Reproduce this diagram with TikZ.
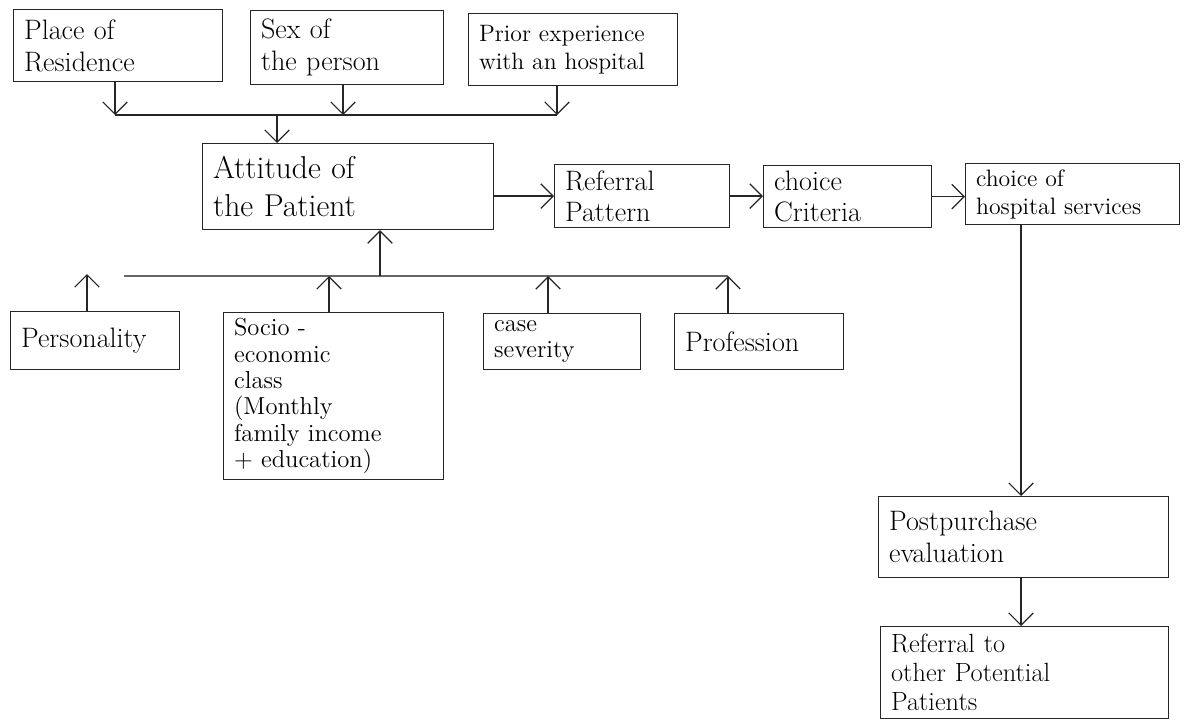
\documentclass[tikz,border=0pt]{standalone}
\usetikzlibrary{arrows.meta}
\begin{document}
\begin{tikzpicture}[x=0.02cm,y=-0.02cm,
  box/.style={draw=black!85, line width=0.7pt, anchor=north west, align=left,
    inner xsep=0.21cm, inner ysep=2pt, font=\fontsize{16}{18}\selectfont},
  small/.style={font=\fontsize{13.5}{16}\selectfont},
  sz/.style n args={3}{minimum width=#1cm, minimum height=#2cm, text width=#3cm},
  link/.style={draw=black!85, line width=0.7pt},
  arr/.style={link, -{Straight Barb[length=7pt,width=14pt]}}
]
\fill[white] (0,0) rectangle (1189,720);
\useasboundingbox (0,0) rectangle (1189,720);

% influencing factors above the attitude box
\node[box, sz={4.18}{1.44}{3.76}] (place) at (13,9) {Place of\\Residence};
\node[box, sz={3.86}{1.48}{3.44}] (sex) at (250,10) {Sex of\\the person};
\node[box, small, sz={4.18}{1.44}{3.76}] (prior) at (468,13) {Prior experience\\with an hospital};

% main chain
\node[box, font=\fontsize{18}{22}\selectfont, sz={5.82}{1.72}{5.40}] (att) at (202,143) {Attitude of\\the Patient};
\node[box, sz={3.50}{1.26}{3.08}] (ref) at (554,164) {Referral\\Pattern};
\node[box, sz={3.36}{1.24}{2.94}] (crit) at (763,165) {choice\\Criteria};
\node[box, small, sz={4.28}{1.22}{3.86}] (hosp) at (965,163) {choice of\\hospital services};

% influencing factors below the attitude box
\node[box, sz={3.38}{1.16}{2.96}] (pers) at (10,311) {Personality};
\node[box, font=\fontsize{14}{15}\selectfont, sz={4.40}{3.34}{3.98}] (socio) at (223,312)
  {Socio -\\economic\\class\\(Monthly\\family income\\+ education)};
\node[box, font=\fontsize{14}{14.5}\selectfont, sz={3.14}{1.12}{2.72}] (case) at (483,313) {case\\severity};
\node[box, sz={3.38}{1.12}{2.96}] (prof) at (674,313) {Profession};

% after the choice
\node[box, sz={5.80}{1.62}{5.38}] (post) at (878,496) {Postpurchase\\evaluation};
\node[box, font=\fontsize{15}{16.5}\selectfont, sz={5.76}{1.84}{5.34}] (other) at (880,626)
  {Referral to\\other Potential\\Patients};

% upper collector
\coordinate (jp) at (115,115);
\coordinate (js) at (343,115);
\coordinate (jr) at (557,115);
\coordinate (ja) at (277,115);
\draw[arr] (place.south -| jp) -- (jp);
\draw[arr] (sex.south -| js) -- (js);
\draw[arr] (prior.south -| jr) -- (jr);
\draw[link] (jp) -- (jr);
\draw[arr] (ja) -- (ja |- att.north);

% chain arrows
\draw[arr] (ref.west -| att.east) -- (ref.west);
\draw[arr] (ref.east) -- (crit.west |- ref.east);
\draw[arr] (crit.east) -- (hosp.west |- crit.east);
\coordinate (jh) at (1021,0);
\draw[arr] (hosp.south -| jh) -- (post.north -| jh);
\draw[arr] (post.south -| jh) -- (other.north -| jh);

% lower collector
\coordinate (lb) at (124,276);
\coordinate (lu) at (380,276);
\coordinate (ls) at (329,276);
\coordinate (lc) at (548,276);
\coordinate (le) at (728,276);
\coordinate (pt) at (87,274);
\draw[link, draw=black!60] (lb) -- (le);
\draw[arr] (lu) -- (lu |- att.south);
\draw[arr] (pers.north -| pt) -- (pt);
\draw[arr] (socio.north -| ls) -- (ls);
\draw[arr] (case.north -| lc) -- (lc);
\draw[arr] (prof.north -| le) -- (le);
\end{tikzpicture}
\end{document}
